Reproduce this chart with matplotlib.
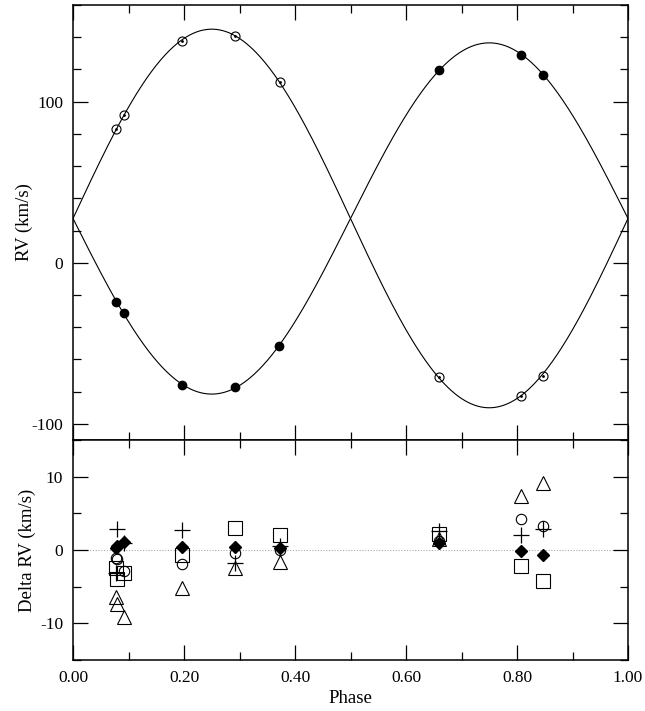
import numpy as np
import matplotlib
matplotlib.use('Agg')
import matplotlib.pyplot as plt
from matplotlib.ticker import MultipleLocator, FormatStrFormatter

# orbit solution
GAMMA = 27.5
K1 = 117.5   # open-circle star
K2 = 109.0   # filled-circle star

# RV observations
ph_obs = [0.078, 0.091, 0.196, 0.292, 0.373, 0.659, 0.808, 0.846]
rv_open = [83.2, 91.5, 137.9, 140.6, 112.4, -71.2, -82.4, -70.4]
ph_fill = [0.078, 0.091, 0.196, 0.292, 0.371, 0.659, 0.808, 0.846]
rv_fill = [-24.6, -31.3, -75.8, -77.4, -51.6, 119.5, 129.2, 116.6]

# residuals, one list per symbol
ph_res = [0.078, 0.080, 0.091, 0.196, 0.292, 0.373, 0.659, 0.808, 0.846]
d_plus    = [-3.2, 2.8, 1.0, 2.7, -1.8, 0.5, 2.6, 2.0, 2.9]
d_diamond = [0.3, 0.6, 1.1, 0.4, 0.4, 0.3, 0.9, -0.2, -0.7]
d_circle  = [-1.1, -1.2, -2.9, -1.9, -0.4, 0.0, 1.2, 4.2, 3.3]
d_square  = [-2.5, -4.0, -3.2, -0.7, 3.0, 2.0, 2.2, -2.2, -4.2]
d_triangle = [-6.4, -7.4, -9.1, -5.2, -2.5, -1.6, 1.5, 7.4, 9.2]

plt.rcParams['font.family'] = ['Liberation Serif', 'DejaVu Serif']
plt.rcParams['axes.unicode_minus'] = False

fig = plt.figure(figsize=(6.45, 7.11), dpi=100)
L, R = 73 / 645, 628 / 645
ax1 = fig.add_axes([L, 1 - 440 / 711, R - L, 435 / 711])
ax2 = fig.add_axes([L, 1 - 660 / 711, R - L, 220 / 711])

# ── top panel: RV curves ─────────────────────────
ph = np.linspace(0, 1, 500)
ax1.plot(ph, GAMMA + K1 * np.sin(2 * np.pi * ph), color='black', lw=0.8)
ax1.plot(ph, GAMMA - K2 * np.sin(2 * np.pi * ph), color='black', lw=0.8)
ax1.plot(ph_obs, rv_open, 'o', ms=6.5, mfc='none', mec='black', mew=0.8)
ax1.plot(ph_obs, rv_open, '.', ms=2, color='black')
ax1.plot(ph_fill, rv_fill, 'o', ms=6, color='black')

ax1.set_xlim(0, 1)
ax1.set_ylim(-110, 160)
ax1.set_ylabel('RV (km/s)', fontsize=13.5, labelpad=-1)
ax1.yaxis.set_major_locator(MultipleLocator(100))
ax1.yaxis.set_minor_locator(MultipleLocator(20))
ax1.tick_params(labelbottom=False)

# ── bottom panel: residuals ──────────────────────
ax2.axhline(0, color='#aaaaaa', lw=0.8, ls=(0, (1, 1.5)), zorder=1)
ax2.plot(ph_res, d_triangle, '^', ms=10, mfc='none', mec='black', mew=0.8)
ax2.plot(ph_res, d_square, 's', ms=9.5, mfc='none', mec='black', mew=0.8)
ax2.plot(ph_res, d_circle, 'o', ms=7.5, mfc='none', mec='black', mew=0.8)
ax2.plot(ph_res, d_plus, '+', ms=11, color='black', mew=0.9)
ax2.plot(ph_res, d_diamond, 'D', ms=6.5, color='black')

ax2.set_xlim(0, 1)
ax2.set_ylim(-15, 15)
ax2.set_ylabel('Delta RV (km/s)', fontsize=13.5, labelpad=3)
ax2.set_xlabel('Phase', fontsize=13.5, labelpad=3)
ax2.yaxis.set_major_locator(MultipleLocator(10))
ax2.yaxis.set_minor_locator(MultipleLocator(5))
ax2.xaxis.set_major_formatter(FormatStrFormatter('%.2f'))

for ax in (ax1, ax2):
    ax.xaxis.set_major_locator(MultipleLocator(0.2))
    ax.xaxis.set_minor_locator(MultipleLocator(0.1))
    ax.tick_params(which='both', direction='in', top=True, right=True,
                   labelsize=12.5, width=0.9, pad=7)
    ax.tick_params(which='major', length=11)
    ax.tick_params(which='minor', length=6)
    for s in ax.spines.values():
        s.set_linewidth(1.1)

fig.savefig('out.png', dpi=100, facecolor='white')
